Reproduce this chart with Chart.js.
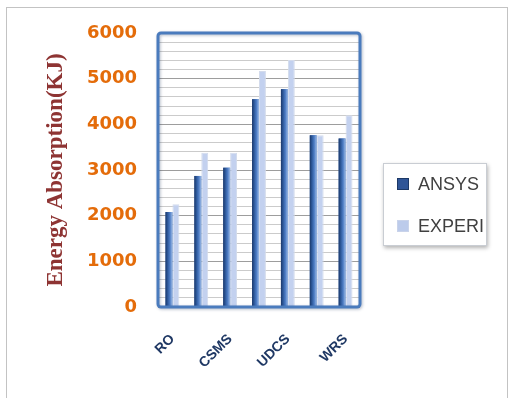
<!DOCTYPE html>
<html>
<head>
<meta charset="utf-8">
<script src="https://cdn.jsdelivr.net/npm/chart.js@4.4.1/dist/chart.umd.min.js"></script>
<style>
  html, body { margin: 0; padding: 0; background: #ffffff; }
  #wrap { position: relative; width: 509px; height: 398px; overflow: hidden; }
  #outline { position: absolute; left: 6px; top: 7px; width: 500px; height: 400px; border: 1px solid #c3c3c3; }
  #c { position: absolute; left: 0; top: 0; }
</style>
</head>
<body>
<div id="wrap">
  <div id="outline"></div>
  <canvas id="c" width="509" height="398"></canvas>
</div>
<script>
// Energy absorption per specimen, simulated vs. measured
const categories = ['RO', '', 'CSMS', '', 'UDCS', '', 'WRS'];
const ansysValues = [2080, 2870, 3050, 4550, 4770, 3760, 3690];
const experiValues = [2250, 3380, 3380, 5170, 5410, 3760, 4200];
const seriesNames = ['ANSYS', 'EXPERI'];
const yMax = 6000;
const yMinorStep = 200;
const yMajorStep = 1000;

// shaded fill for the simulated bars
const barShading = {
  id: 'barShading',
  afterDatasetDraw(chart, args) {
    if (args.index !== 0) return;
    const ctx = chart.ctx;
    ctx.save();
    args.meta.data.forEach(el => {
      const p = el.getProps(['x', 'y', 'base', 'width'], true);
      const l = p.x - p.width / 2, r = p.x + p.width / 2;
      const g = ctx.createLinearGradient(l, 0, r, 0);
      g.addColorStop(0, '#1b3768');
      g.addColorStop(0.3, '#2c5799');
      g.addColorStop(0.65, '#4f7ec6');
      g.addColorStop(1, '#9ebbe5');
      ctx.fillStyle = g;
      ctx.fillRect(l, p.y, p.width, p.base - p.y);
    });
    ctx.restore();
  }
};

// blue rounded frame round the plot area
const plotFrame = {
  id: 'plotFrame',
  afterDatasetsDraw(chart) {
    const { ctx, chartArea: a } = chart;
    ctx.save();
    ctx.shadowColor = 'rgba(40,60,100,0.35)';
    ctx.shadowBlur = 3;
    ctx.shadowOffsetX = 1;
    ctx.shadowOffsetY = 1;
    ctx.strokeStyle = '#4a7bbd';
    ctx.lineWidth = 3;
    ctx.beginPath();
    ctx.roundRect(a.left, a.top, a.right - a.left, a.bottom - a.top, 3);
    ctx.stroke();
    ctx.restore();
  }
};

// boxed legend to the right of the plot
const boxLegend = {
  id: 'boxLegend',
  afterDraw(chart) {
    const { ctx, chartArea: a } = chart;
    const bx = a.right + 23, by = 163, bw = 104, bh = 83;
    ctx.save();
    ctx.shadowColor = 'rgba(0,0,0,0.3)';
    ctx.shadowBlur = 4;
    ctx.shadowOffsetX = 1;
    ctx.shadowOffsetY = 2;
    ctx.fillStyle = '#ffffff';
    ctx.fillRect(bx, by, bw, bh);
    ctx.shadowColor = 'transparent';
    ctx.strokeStyle = '#c9cdd3';
    ctx.lineWidth = 1;
    ctx.strokeRect(bx + 0.5, by + 0.5, bw - 1, bh - 1);
    const swatches = [
      { fill: '#2f5597', edge: '#1c3866' },
      { fill: '#bccbeb', edge: '#c9d3ea' }
    ];
    ctx.font = '18px "Liberation Sans", Arial, sans-serif';
    ctx.textBaseline = 'middle';
    chart.data.datasets.forEach((ds, i) => {
      const cy = by + 21 + i * 42;
      ctx.fillStyle = swatches[i].fill;
      ctx.fillRect(bx + 14, cy - 6, 12, 12);
      ctx.strokeStyle = swatches[i].edge;
      ctx.strokeRect(bx + 14.5, cy - 5.5, 11, 11);
      ctx.fillStyle = '#404040';
      ctx.fillText(ds.label, bx + 35, cy + 1);
    });
    ctx.restore();
  }
};

new Chart(document.getElementById('c'), {
  type: 'bar',
  data: {
    labels: categories,
    datasets: [
      { label: seriesNames[0], data: ansysValues, backgroundColor: '#3a67ad', borderWidth: 0 },
      { label: seriesNames[1], data: experiValues, backgroundColor: '#c3d1ef', borderColor: '#d3dbec', borderWidth: 1 }
    ]
  },
  options: {
    responsive: false,
    animation: false,
    devicePixelRatio: 1,
    layout: { padding: { left: 42, top: 33, right: 149, bottom: 31 } },
    datasets: { bar: { categoryPercentage: 0.48, barPercentage: 1 } },
    plugins: { legend: { display: false }, tooltip: { enabled: false } },
    scales: {
      x: {
        grid: { display: false, drawTicks: false },
        border: { display: false },
        afterFit(s) { s.height = 60; },
        ticks: {
          autoSkip: false,
          minRotation: 45,
          maxRotation: 45,
          padding: 24,
          color: '#1f3864',
          font: { family: '"Liberation Sans", Arial, sans-serif', size: 14, weight: 'bold' }
        }
      },
      y: {
        min: 0,
        max: yMax,
        afterFit(s) { s.width = 116; },
        border: { display: false },
        grid: {
          drawTicks: false,
          color: c => (c.tick && c.tick.value % yMajorStep === 0) ? '#9d9d9d' : '#cbcbcb',
          lineWidth: 1
        },
        ticks: {
          stepSize: yMinorStep,
          autoSkip: false,
          padding: 21,
          color: '#e46c0a',
          font: { family: '"DejaVu Sans", sans-serif', size: 18, weight: 'bold' },
          callback: v => (v % yMajorStep === 0 ? String(v) : '')
        },
        title: {
          display: true,
          text: 'Energy Absorption(KJ)',
          color: '#8e3433',
          padding: { top: 0, bottom: 0 },
          font: { family: '"Liberation Serif", "Times New Roman", serif', size: 23, weight: 'bold' }
        }
      }
    }
  },
  plugins: [barShading, plotFrame, boxLegend]
});
</script>
</body>
</html>
